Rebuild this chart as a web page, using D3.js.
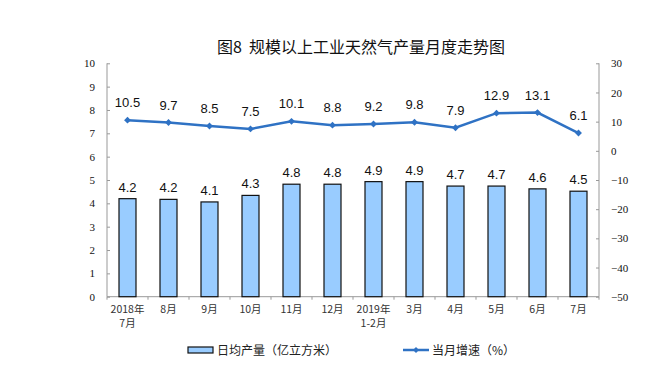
<!DOCTYPE html>
<html><head><meta charset="utf-8">
<script src="https://cdn.jsdelivr.net/npm/d3@7"></script>
<style>body{margin:0;background:#fff}svg{display:block}</style>
</head><body>
<script>
const categories = [["2018年","7月"],["8月"],["9月"],["10月"],["11月"],["12月"],["2019年","1-2月"],["3月"],["4月"],["5月"],["6月"],["7月"]];
const dailyOutput = [4.20, 4.17, 4.06, 4.34, 4.82, 4.82, 4.93, 4.93, 4.74, 4.74, 4.62, 4.52];
const dailyLabels = ["4.2","4.2","4.1","4.3","4.8","4.8","4.9","4.9","4.7","4.7","4.6","4.5"];
const growth = [10.5, 9.7, 8.5, 7.5, 10.1, 8.8, 9.2, 9.8, 7.9, 12.9, 13.1, 6.1];
const leftTicks = [0,1,2,3,4,5,6,7,8,9,10];
const rightTicks = [-50,-40,-30,-20,-10,0,10,20,30];
const title = "图8  规模以上工业天然气产量月度走势图";
const legendBar = "日均产量（亿立方米）";
const legendLine = "当月增速（%）";

const W=667,H=381;
const m={l:107,r:599,t:63.3,b:296.7};
const svg=d3.select("body").append("svg").attr("width",W).attr("height",H);
const x=d3.scaleBand().domain(d3.range(categories.length)).range([m.l,m.r]).paddingInner(0).paddingOuter(0);
const yL=d3.scaleLinear().domain([0,10]).range([m.b,m.t]);
const yR=d3.scaleLinear().domain([-50,30]).range([m.b,m.t]);
const cjk='"Noto Sans CJK SC","Noto Sans",sans-serif';
const serif='"Liberation Serif","DejaVu Serif",serif';
const sans='"Liberation Sans",Arial,sans-serif';

svg.append("text").attr("x",217).attr("y",53).attr("text-anchor","start")
  .style("white-space","pre")
  .style("font-family",cjk).style("font-size","16px").style("fill","#111").text(title);

// left axis
const gL=svg.append("g").attr("transform",`translate(${m.l},0)`)
  .call(d3.axisLeft(yL).tickValues(leftTicks).tickSize(-3).tickPadding(12).tickFormat(d3.format("d")));
// right axis
const gR=svg.append("g").attr("transform",`translate(${m.r},0)`)
  .call(d3.axisRight(yR).tickValues(rightTicks).tickSize(-3).tickPadding(12).tickFormat(d3.format("d")));
[gL,gR].forEach(g=>{
  g.select(".domain").attr("stroke","#999").attr("d",null);
  g.selectAll(".tick line").attr("stroke","#999");
  g.selectAll("text").style("font-family",serif).style("font-size","11px").attr("fill","#111");
});
gL.append("line").attr("x1",0).attr("x2",0).attr("y1",m.t).attr("y2",m.b).attr("stroke","#999");
gR.append("line").attr("x1",0).attr("x2",0).attr("y1",m.t).attr("y2",m.b).attr("stroke","#999");

// bottom axis
const gB=svg.append("g").attr("transform",`translate(0,${m.b})`);
gB.append("line").attr("x1",m.l).attr("x2",m.r).attr("stroke","#999");
gB.selectAll(".tk").data(d3.range(categories.length+1)).join("line")
  .attr("x1",i=>m.l+i*x.step()).attr("x2",i=>m.l+i*x.step()).attr("y1",0).attr("y2",3).attr("stroke","#999");
categories.forEach((c,i)=>{
  const t=gB.append("text").attr("x",x(i)+x.bandwidth()/2).attr("y",16).attr("text-anchor","middle")
    .style("font-family",cjk).style("font-size","10.5px").attr("fill","#333");
  c.forEach((s,j)=>t.append("tspan").attr("x",x(i)+x.bandwidth()/2).attr("dy",j?14:0).text(s));
});

// bars
const bw=17;
svg.selectAll(".bar").data(dailyOutput).join("rect")
  .attr("x",(d,i)=>x(i)+x.bandwidth()/2-bw/2).attr("width",bw)
  .attr("y",d=>yL(d)).attr("height",d=>yL(0)-yL(d))
  .attr("fill","#99CCFF").attr("stroke","#111").attr("stroke-width",1.2);
svg.selectAll(".bl").data(dailyOutput).join("text")
  .attr("x",(d,i)=>x(i)+x.bandwidth()/2).attr("y",d=>yL(d)-7).attr("text-anchor","middle")
  .style("font-family",sans).style("font-size","13px").attr("fill","#111").text((d,i)=>dailyLabels[i]);

// line
const lc="#2F72C4";
const line=d3.line().x((d,i)=>x(i)+x.bandwidth()/2).y(d=>yR(d));
svg.append("path").datum(growth).attr("d",line).attr("fill","none").attr("stroke",lc).attr("stroke-width",2.5);
svg.selectAll(".mk").data(growth).join("path")
  .attr("d",d3.symbol(d3.symbolDiamond2,30))
  .attr("transform",(d,i)=>`translate(${x(i)+x.bandwidth()/2},${yR(d)})`).attr("fill",lc);
svg.selectAll(".ll").data(growth).join("text")
  .attr("x",(d,i)=>x(i)+x.bandwidth()/2).attr("y",d=>yR(d)-13).attr("text-anchor","middle")
  .style("font-family",sans).style("font-size","13px").attr("fill","#111").text(d=>d3.format(".1f")(d));

// legend
const ly=350;
svg.append("rect").attr("x",188).attr("y",ly-3).attr("width",25).attr("height",6)
  .attr("fill","#99CCFF").attr("stroke","#111").attr("stroke-width",1.2);
svg.append("text").attr("x",217).attr("y",ly+4.5).style("font-family",cjk).style("font-size","12px").attr("fill","#222").text(legendBar);
svg.append("line").attr("x1",403).attr("x2",429).attr("y1",ly).attr("y2",ly).attr("stroke",lc).attr("stroke-width",2.5);
svg.append("path").attr("d",d3.symbol(d3.symbolDiamond2,24)).attr("transform",`translate(416,${ly})`).attr("fill",lc);
svg.append("text").attr("x",432).attr("y",ly+4.5).style("font-family",cjk).style("font-size","12px").attr("fill","#222").text(legendLine);
</script>
</body></html>
